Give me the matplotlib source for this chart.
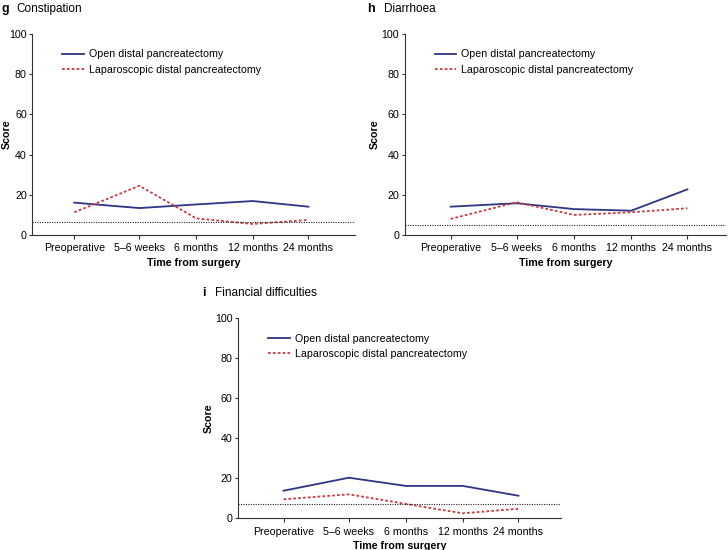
import matplotlib
matplotlib.use("Agg")
import matplotlib.pyplot as plt

plt.rcParams['font.family'] = ['Liberation Sans', 'DejaVu Sans']

timepoints = ["Preoperative", "5\u20136 weeks", "6 months", "12 months", "24 months"]
series_names = ["Open distal pancreatectomy", "Laparoscopic distal pancreatectomy"]

constipation_open = [16.1, 13.4, 15.2, 16.9, 14.1]
constipation_lap = [11.3, 24.5, 8.3, 5.5, 7.5]
constipation_ref = 6.3

diarrhoea_open = [14.1, 15.8, 12.9, 12.1, 22.7]
diarrhoea_lap = [8.0, 16.3, 10.0, 11.3, 13.3]
diarrhoea_ref = 4.8

financial_open = [13.8, 20.3, 16.2, 16.2, 11.3]
financial_lap = [9.5, 12.0, 7.2, 2.5, 4.8]
financial_ref = 7.0

x_pos = [0.8, 1.95, 2.95, 3.95, 4.93]

OPEN_C = "#2e3585"
LAP_C = "#c83a3f"
FS = 7.7

fig = plt.figure(figsize=(7.28, 5.5), dpi=100)

def panel(rect, xlim, ylab_x, openv, lapv, refv):
    ax = fig.add_axes(rect)
    ax.plot(x_pos, openv, color=OPEN_C, lw=1.3, label=series_names[0])
    ax.plot(x_pos, lapv, color=LAP_C, lw=1.3, linestyle=(0, (1.5, 1.2)), label=series_names[1])
    ax.axhline(refv, color="#222222", lw=0.8, linestyle=(0, (1, 1.2)))
    ax.set_xlim(*xlim)
    ax.set_ylim(0, 100)
    ax.set_xticks(x_pos)
    ax.set_xticklabels(timepoints, fontsize=FS)
    ax.set_yticks([0, 20, 40, 60, 80, 100])
    ax.tick_params(axis='both', labelsize=FS, width=0.8, direction='out', color="#333333")
    ax.tick_params(axis='y', length=2.5, pad=1.5)
    ax.tick_params(axis='x', length=3.0, pad=3)
    for s in ['top', 'right']:
        ax.spines[s].set_visible(False)
    for s in ['left', 'bottom']:
        ax.spines[s].set_linewidth(0.8)
        ax.spines[s].set_color("#333333")
    ax.set_ylabel("Score", fontsize=FS, fontweight='bold')
    ax.yaxis.set_label_coords(ylab_x, 0.5)
    ax.set_xlabel("Time from surgery", fontsize=FS, fontweight='bold', labelpad=3)
    ax.legend(loc='upper left', bbox_to_anchor=(0.08, 0.945), frameon=False, fontsize=FS,
              handlelength=2.0, handletextpad=0.5, labelspacing=0.5, borderaxespad=0, borderpad=0.4)
    return ax

panel([0.0444, 0.5727, 0.443, 0.3655], (0.06, 5.75), -0.063, constipation_open, constipation_lap, constipation_ref)
panel([0.556, 0.5727, 0.441, 0.3655], (0.0, 5.6), -0.077, diarrhoea_open, diarrhoea_lap, diarrhoea_ref)
panel([0.327, 0.0576, 0.443, 0.3637], (0.0, 5.67), -0.077, financial_open, financial_lap, financial_ref)

def title(xl, xt, y, letter, text):
    fig.text(xl, y, letter, fontsize=9, fontweight='bold', va='center', ha='left')
    fig.text(xt, y, text, fontsize=8.5, va='center', ha='left')

title(0.002, 0.022, 0.984, "g", "Constipation")
title(0.504, 0.527, 0.984, "h", "Diarrhoea")
title(0.278, 0.295, 0.468, "i", "Financial difficulties")

fig.savefig("out.png", dpi=100)
